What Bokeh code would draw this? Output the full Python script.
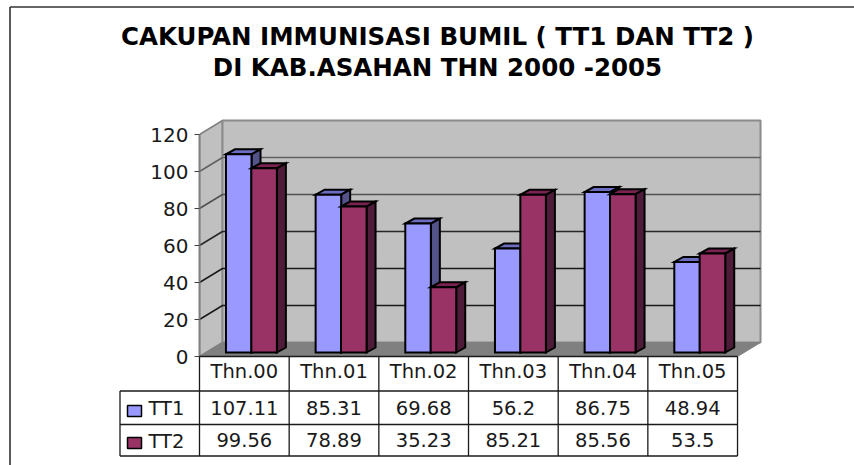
from bokeh.plotting import figure
from bokeh.models import FixedTicker, Range1d
from bokeh.core.properties import value
from bokeh.embed import file_html
from bokeh.resources import INLINE

categories = ["Thn.00", "Thn.01", "Thn.02", "Thn.03", "Thn.04", "Thn.05"]
tt1 = [107.11, 85.31, 69.68, 56.2, 86.75, 48.94]
tt2 = [99.56, 78.89, 35.23, 85.21, 85.56, 53.5]
tt1_labels = ["107.11", "85.31", "69.68", "56.2", "86.75", "48.94"]
tt2_labels = ["99.56", "78.89", "35.23", "85.21", "85.56", "53.5"]
y_ticks = [0, 20, 40, 60, 80, 100, 120]
title_lines = ["CAKUPAN IMMUNISASI BUMIL ( TT1 DAN TT2 )", "DI KAB.ASAHAN THN 2000 -2005"]

FONT = "DejaVu Sans"
W, H = 854, 465
PAD = 0
X0, Y0 = 199, 356          # page pixel of category 0 / value 0
PX = 89.67                 # pixels per category
PY = 1.85                  # pixels per value unit
LEFT = X0 - PAD            # room of the value axis

def dx(px): return px / PX
def dy(px): return px / PY
def xp(px): return (px - X0) / PX     # page pixel -> x data
def yp(px): return (Y0 - px) / PY     # page pixel -> y data

p = figure(width=W, height=H, output_backend="svg", toolbar_location=None,
           x_range=Range1d(0, (W + PAD - X0) / PX),
           y_range=Range1d(yp(H + PAD), yp(PAD)),
           min_border_left=LEFT, min_border_right=0, min_border_top=0, min_border_bottom=0,
           x_axis_location=None, background_fill_color=None, border_fill_color="white",
           outline_line_color=None)
p.grid.visible = False
ax = p.yaxis[0]
ax.ticker = FixedTicker(ticks=y_ticks)
ax.bounds = (0, 120)
ax.axis_line_color = "#808080"
ax.axis_line_width = 2
ax.major_tick_line_color = "#404040"
ax.major_tick_in = 0
ax.major_tick_out = 5
ax.minor_tick_line_color = None
ax.major_label_text_font = FONT
ax.major_label_text_font_size = "20px"
ax.major_label_text_color = "#1a1a1a"
ax.major_label_standoff = 6

WALL_X, WALL_Y = 23, 14    # depth of the chart box, pixels
BAR_DX, BAR_DY = 9, 5      # depth of a bar, pixels
BASE_X, BASE_Y = 4, 4      # bar foot behind the front plane
SLOT = [0.295, 0.578]      # bar left edges inside a category
BW = 0.285
N = len(categories)
wx, wy = dx(WALL_X), dy(WALL_Y)

# side wall, back wall, floor
p.patch([0, wx, wx, 0], [0, wy, 120 + wy, 120], fill_color="#c0c0c0", line_color="#808080", line_width=1.5)
p.patch([wx, N + wx, N + wx, wx], [wy, wy, 120 + wy, 120 + wy], fill_color="#c0c0c0", line_color="#8a8a8a", line_width=2)
p.patch([0, N, N + wx, wx], [0, 0, wy, wy], fill_color="#808080", line_color="#808080")

# gridlines
grid_colors = ["#1a1a1a", "#1a1a1a", "#262626", "#505050", "#606060"]
for t, gc in zip(y_ticks[1:-1], grid_colors):
    p.line([0, wx, N + wx], [t, t + wy, t + wy], line_color=gc, line_width=1.5)

# bars
bx, by = dx(BAR_DX), dy(BAR_DY)
base_x, base_y = dx(BASE_X), dy(BASE_Y)
def bar(x, v, front, top, side):
    y0, y1 = base_y, v + base_y
    x1 = x + BW
    kw = dict(line_color="black", line_width=2, line_join="miter")
    p.patch([x, x1, x1 + bx, x + bx], [y1, y1, y1 + by, y1 + by], fill_color=top, **kw)
    p.patch([x1, x1 + bx, x1 + bx, x1], [y0, y0 + by, y1 + by, y1], fill_color=side, **kw)
    p.patch([x, x1, x1, x], [y0, y0, y1, y1], fill_color=front, **kw)

for i in range(N):
    bar(i + SLOT[0], tt1[i], "#9999ff", "#6c6cc0", "#53538a")
    bar(i + SLOT[1], tt2[i], "#993366", "#7a2350", "#4e1c38")

# data table
row_y = [Y0, 390.5, 424, 455.5]
leg_x = 119.5
kw = dict(line_color="#1a1a1a", line_width=1.3, level="overlay")
for k, ry in enumerate(row_y):
    p.line([xp(leg_x if k else X0), N], [yp(ry), yp(ry)], **kw)
for c in range(N + 1):
    p.line([c, c], [yp(row_y[0]), yp(row_y[-1])], **kw)
p.line([xp(leg_x)] * 2, [yp(row_y[1]), yp(row_y[-1])], **kw)

tk = dict(text_font=value(FONT), text_font_size="19.5px", text_color="#1a1a1a",
          text_baseline="middle", level="overlay")
centers = [i + 0.5 for i in range(N)]
p.text(centers, [yp(371)] * N, text=categories, text_align="center", **tk)
p.text(centers, [yp(407)] * N, text=tt1_labels, text_align="center", **tk)
p.text(centers, [yp(439.5)] * N, text=tt2_labels, text_align="center", **tk)
p.text([xp(148)] * 2, [yp(407.5), yp(440.5)], text=["TT1", "TT2"], text_align="left", **tk)
for cy, col in ((410.5, "#9999ff"), (442.5, "#993366")):
    p.quad(left=[xp(127)], right=[xp(141)], top=[yp(cy - 5.5)], bottom=[yp(cy + 5.5)],
           fill_color=col, line_color="black", line_width=1.5, level="overlay")

# title
p.text([xp(437)] * 2, [yp(35.5), yp(66.5)], text=title_lines, text_align="center", text_baseline="middle",
       text_font=value(FONT), text_font_style="bold", text_font_size="24.5px", text_color="black", level="overlay")

# frame of the chart
p.line([xp(9.5), xp(9.5)], [yp(465), yp(6.5)], line_color="#222222", line_width=1.5, level="overlay")
p.line([xp(9.5), xp(854)], [yp(6.5), yp(6.5)], line_color="#333333", line_width=1.5, level="overlay")

open("out.html", "w").write(file_html(p, INLINE))
